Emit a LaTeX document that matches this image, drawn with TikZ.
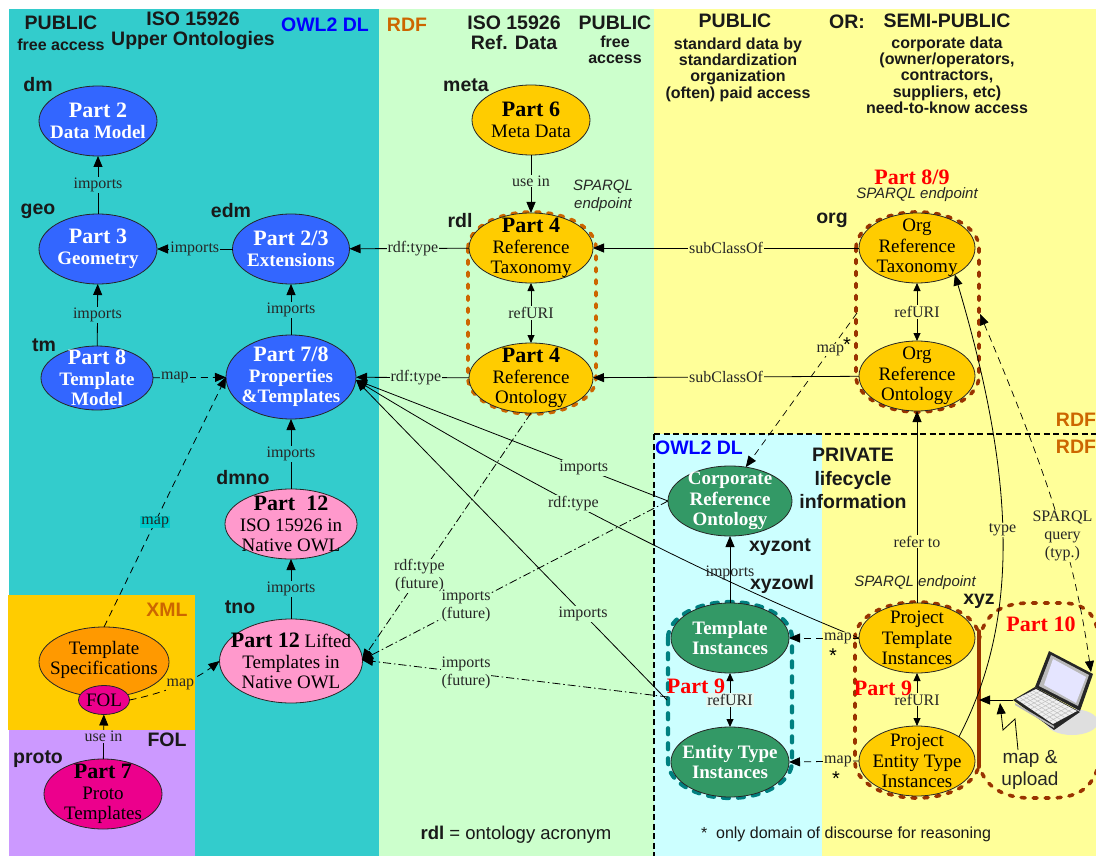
\documentclass[tikz,border=0pt]{standalone}
\usepackage{fontspec}
\setmainfont{Liberation Serif}
\setsansfont{Liberation Sans}
\usetikzlibrary{arrows.meta,calc,shapes.geometric}

\definecolor{bgteal}{HTML}{33CCCC}
\definecolor{bggreen}{HTML}{CCFFCC}
\definecolor{bgyellow}{HTML}{FFFF99}
\definecolor{bgcyan}{HTML}{CCFFFF}
\definecolor{bgxml}{HTML}{FFCC00}
\definecolor{bgfol}{HTML}{CC99FF}
\definecolor{mapchip}{HTML}{00CCCC}
\definecolor{refwash}{HTML}{E4F8F0}
\definecolor{ontoblue}{HTML}{3366FF}
\definecolor{ontogold}{HTML}{FFCC00}
\definecolor{ontogreen}{HTML}{339966}
\definecolor{ontopink}{HTML}{FF99CC}
\definecolor{ontospec}{HTML}{FF9900}
\definecolor{rdforange}{HTML}{CC6600}
\definecolor{grpbrown}{HTML}{993300}
\definecolor{grpteal}{HTML}{008080}

\newcommand{\parttitle}[1]{{\fontsize{22}{24}\selectfont\bfseries #1}}

\tikzset{
  onto/.style={ellipse, draw=black!85, line width=.8pt, inner sep=0pt, outer sep=0pt},
  ontotext/.style={font=\fontsize{19}{20.5}\selectfont, align=center, inner sep=0pt},
  whitetext/.style={ontotext, text=white, font=\fontsize{19}{20.5}\selectfont\bfseries},
  con/.style={-{Triangle[length=11pt,width=9pt]}, line width=.8pt},
  refcon/.style={{Triangle[length=8pt,width=7pt]}-{Triangle[length=8pt,width=7pt]}, line width=.8pt},
  mapcon/.style={con, dash pattern=on 7pt off 5pt},
  futcon/.style={con, dash pattern=on 8pt off 3pt on 1.5pt off 3pt},
  lbl/.style={font=\fontsize{16}{18}\selectfont, align=center, inner sep=1pt, text=black!85},
  grp/.style={line width=3.6pt, line cap=round, dash pattern=on 4pt off 8pt},
  head/.style={font=\fontsize{19.5}{20}\selectfont\sffamily\bfseries, align=center, inner sep=0pt, text=black!90},
  subhead/.style={font=\fontsize{16}{16.3}\selectfont\sffamily\bfseries, align=center, inner sep=0pt, text=black!90},
  tag/.style={font=\fontsize{19.5}{20}\selectfont\sffamily\bfseries, inner sep=0pt, text=black!90},
  lang/.style={font=\fontsize{19.5}{20}\selectfont\sffamily\bfseries, inner sep=0pt},
  partred/.style={font=\fontsize{22}{24}\selectfont\bfseries, text=red, inner sep=0pt},
  endpt/.style={font=\fontsize{15}{18}\selectfont\sffamily\itshape, align=center, inner sep=0pt, text=black!85},
}

\begin{document}
\begin{tikzpicture}[x=1pt,y=-1pt]
\useasboundingbox (0,0) rectangle (1096,856);

% Background regions
\fill[bgteal] (9,9) rectangle (379,856);
\fill[bggreen] (379,9) rectangle (654,856);
\fill[bgyellow] (654,9) rectangle (1096,856);
\fill[bgcyan] (654,434) rectangle (822,856);
\fill[bgxml] (8,595) rectangle (195,730);
\fill[bgfol] (9,730) rectangle (195,856);

% Dashed groups
\draw[grp, rdforange] (468,248) arc[start angle=180,end angle=0,x radius=64pt,y radius=36pt]
  -- (596,378) arc[start angle=0,end angle=-180,x radius=64pt,y radius=36pt] -- cycle;
\draw[grp, grpbrown] (856,248) arc[start angle=180,end angle=0,x radius=61.5pt,y radius=36pt]
  -- (979,376) arc[start angle=0,end angle=-180,x radius=61.5pt,y radius=36pt] -- cycle;
\draw[grp, grpteal, line width=4.2pt, dash pattern=on 6pt off 9pt] (668,638) arc[start angle=180,end angle=0,x radius=62pt,y radius=36pt]
  -- (792,762) arc[start angle=0,end angle=-180,x radius=62pt,y radius=36pt] -- cycle;
\draw[grp, grpbrown] (855,638) arc[start angle=180,end angle=0,x radius=62pt,y radius=36pt]
  -- (979,762) arc[start angle=0,end angle=-180,x radius=62pt,y radius=36pt] -- cycle;
\draw[grp, grpbrown] (979,640) .. controls (985,612) and (1003,603) .. (1030,603)
  -- (1062,603) .. controls (1085,603) and (1094,615) .. (1097,628);
\draw[grp, grpbrown] (1097,770) .. controls (1090,790) and (1075,798) .. (1050,798)
  -- (1030,798) .. controls (1005,798) and (985,788) .. (979,765);
\draw[grpbrown, line width=3.6pt, line cap=round] (979,631) -- (979,767);

% Upper ontologies
\node[onto, fill=ontoblue, minimum width=118, minimum height=70,
  label={[whitetext]center:{\parttitle{Part 2}\\Data Model}}] (dm) at (98,121) {};
\node[onto, fill=ontoblue, minimum width=118, minimum height=70,
  label={[whitetext]center:{\parttitle{Part 3}\\Geometry}}] (geo) at (98,249) {};
\node[onto, fill=ontoblue, minimum width=117, minimum height=70,
  label={[whitetext]center:{\parttitle{Part 2/3}\\Extensions}}] (edm) at (291,249) {};
\node[onto, fill=ontoblue, minimum width=112, minimum height=64,
  label={[whitetext]center:{\parttitle{Part 8}\\Template\\Model}}] (tm) at (97,378) {};
\node[onto, fill=ontoblue, minimum width=130, minimum height=84,
  label={[whitetext]center:{\parttitle{Part 7/8}\\Properties\\\&Templates}}] (prop) at (291,377) {};
\node[onto, fill=ontopink, minimum width=132, minimum height=70,
  label={[ontotext]center:{\parttitle{Part\ \ 12}\\ISO 15926 in\\Native OWL}}] (dmno) at (291,524) {};
\node[onto, fill=ontopink, minimum width=143, minimum height=84,
  label={[ontotext]center:{\parttitle{Part 12} Lifted\\Templates in\\Native OWL}}] (tno) at (291,661) {};
\node[onto, fill=ontospec, minimum width=130, minimum height=70,
  label={[ontotext, yshift=2pt]center:{Template\\Specifications}}] (spec) at (104,662) {};
\node[onto, fill=magenta, minimum width=51, minimum height=29,
  label={[ontotext]center:{FOL}}] (fol) at (104,700) {};
\node[onto, fill=magenta, minimum width=118, minimum height=70,
  label={[ontotext]center:{\parttitle{Part 7}\\Proto\\Templates}}] (proto) at (103,794) {};

% Reference data
\node[onto, fill=ontogold, minimum width=118, minimum height=70,
  label={[ontotext]center:{\parttitle{Part 6}\\Meta Data}}] (meta) at (531,120) {};
\node[onto, fill=ontogold, minimum width=124, minimum height=70,
  label={[ontotext]center:{\parttitle{Part 4}\\Reference\\Taxonomy}}] (ptax) at (531,248) {};
\node[onto, fill=ontogold, minimum width=124, minimum height=70,
  label={[ontotext]center:{\parttitle{Part 4}\\Reference\\Ontology}}] (pont) at (531,378) {};
\node[onto, fill=ontogold, minimum width=116, minimum height=70,
  label={[ontotext]center:{Org\\Reference\\Taxonomy}}] (otax) at (917,248) {};
\node[onto, fill=ontogold, minimum width=116, minimum height=70,
  label={[ontotext]center:{Org\\Reference\\Ontology}}] (oont) at (917,376) {};

% Private information
\node[onto, fill=ontogreen, minimum width=124, minimum height=70,
  label={[whitetext]center:{Corporate\\Reference\\Ontology}}] (corp) at (730,501) {};
\node[onto, fill=ontogreen, minimum width=118, minimum height=70,
  label={[whitetext]center:{Template\\Instances}}] (tinst) at (730,638) {};
\node[onto, fill=ontogreen, minimum width=118, minimum height=70,
  label={[whitetext]center:{Entity Type\\Instances}}] (einst) at (730,762) {};
\node[onto, fill=ontogold, minimum width=116, minimum height=70,
  label={[ontotext]center:{Project\\Template\\Instances}}] (ptinst) at (917,638) {};
\node[onto, fill=ontogold, minimum width=116, minimum height=70,
  label={[ontotext]center:{Project\\Entity Type\\Instances}}] (peinst) at (917,761) {};

% Free ends of connectors
\coordinate (orggrpw) at (857,313);
\coordinate (orggrpe) at (980,314);
\coordinate (tealw) at (667,700);
\coordinate (tealw2) at (668,697);
\coordinate (prope) at (356,380);
\coordinate (tnoe) at (362,660);
\coordinate (laptop) at (1013,700);
\coordinate (laptopup) at (1091,672);
\coordinate (grpline) at (979,700);
\coordinate (zigtip) at (1000,703);
\coordinate (zigone) at (1003,730);
\coordinate (zigtwo) at (1015,719);
\coordinate (zigend) at (1018,750);

% Laptop
\fill[gray!25] (1072,722) ellipse [x radius=26pt, y radius=13pt];
\fill[black!85] (1013,700) -- (1035,687) -- (1080,712) -- (1054,730) -- cycle;
\fill[gray!55] (1015,703) -- (1054,726) -- (1054,728) -- (1015,705) -- cycle;
\coordinate (keya) at (1016,699);
\coordinate (keyb) at (1036,689);
\coordinate (keyc) at (1077,711);
\coordinate (keyd) at (1053,724);
\fill[gray!12] (keya) -- (keyb) -- (keyc) -- (keyd) -- cycle;
\foreach \t in {.17,.33,.5,.67,.83}
  \draw[gray!50, line width=.5pt] ($(keya)!\t!(keyb)$) -- ($(keyd)!\t!(keyc)$);
\foreach \t in {.1,.2,.3,.4,.5,.6,.7,.8,.9}
  \draw[gray!50, line width=.5pt] ($(keya)!\t!(keyd)$) -- ($(keyb)!\t!(keyc)$);
\fill[black!85] (1035,687) -- (1049,651) -- (1093,674) -- (1080,711) -- cycle;
\fill[gray!55] (1039,686) -- (1051,655) -- (1089,675) -- (1078,706) -- cycle;
\fill[blue!10] (1044,685) -- (1053,659) -- (1086,677) -- (1076,703) -- cycle;

% Connectors, upper ontologies
\draw[con] (geo) -- node[lbl, fill=bgteal] (lgeo) {imports} (dm);
\draw[con] (edm) -- node[lbl, fill=bgteal, pos=.5] (ledm) {imports} (geo);
\draw[con] (tm) -- node[lbl, fill=bgteal] (ltm) {imports} (geo);
\draw[con] (prop) -- node[lbl, fill=bgteal] (lprop) {imports} (edm);
\draw[mapcon] (tm) -- node[lbl, fill=bgteal, pos=.3] (ltmmap) {map} (prop);
\draw[con] (dmno) -- node[lbl, fill=bgteal] (ldmno) {imports} (prop);
\draw[con] (tno) -- node[lbl, fill=bgteal] (ltno) {imports} (dmno);
\draw[mapcon] (spec.north) -- node[lbl, fill=mapchip, pos=.42] (lspec) {map} (prop.west);
\draw[mapcon] (fol.east) .. controls (165,693) and (195,680) .. node[lbl, fill=bgxml, pos=.52] (lfol) {map} (tno.west);
\draw[con] (proto) -- node[lbl, fill=bgfol, pos=.5] (lproto) {use in} (fol);

% Connectors, reference data
\draw[con] (ptax) -- node[lbl, fill=bggreen, pos=.47] (lptax) {rdf:type} (edm);
\draw[con] (pont) -- node[lbl, fill=bggreen, pos=.47] (lpont) {rdf:type} (prop);
\draw[con] (meta) -- node[lbl, fill=bggreen, pos=.45] (lmeta) {use in} (ptax);
\draw[refcon] (ptax) -- node[lbl, fill=bggreen] (lref) {refURI} (pont);
\draw[con] (otax) -- node[lbl, fill=bgyellow, pos=.5] (lotax) {subClassOf} (ptax);
\draw[con] (oont) -- node[lbl, fill=bgyellow, pos=.5] (loont) {subClassOf} (pont);
\draw[refcon] (otax) -- node[lbl, fill=bgyellow] (lorg) {refURI} (oont);
\draw[mapcon, line width=.7pt] (orggrpw) -- node[lbl, fill=bgyellow, pos=.24] (lcorpmap) {map} (corp.65);

% Connectors, private data
\draw[con] (corp.west) -- node[lbl, fill=bggreen, pos=.27] (lcorp) {imports} (prope);
\draw[con] (ptinst.west) .. controls (700,574) and (520,480) .. node[lbl, fill=bggreen, pos=.57] (lpt) {rdf:type} (prope);
\draw[con] (tealw) -- node[lbl, fill=bggreen, pos=.27] (lteal) {imports} (prope);
\draw[futcon] (pont.south) -- node[lbl, fill=bggreen, pos=.66] (lfut) {rdf:type\\(future)} (tnoe);
\draw[futcon] (corp.west) -- node[lbl, fill=bggreen, pos=.66] (lfuttwo) {imports\\(future)} (tnoe);
\draw[futcon] (tealw2) -- node[lbl, fill=bggreen, pos=.66] (lfutthree) {imports\\(future)} (tnoe);
\draw[con] (tinst) -- node[lbl, fill=none, pos=.45] (ltinst) {imports} (corp);
\draw[refcon] (tinst) -- node[lbl, fill=refwash] (ltref) {refURI} (einst);
\draw[mapcon] (ptinst.west) -- node[lbl, fill=bgyellow, pos=.3] (lptmap) {map} (tinst.east);
\draw[mapcon] (peinst.west) -- node[lbl, fill=bgyellow, pos=.3] (lpemap) {map} (einst.east);
\draw[refcon] (ptinst) -- node[lbl, fill=bgyellow] (lpref) {refURI} (peinst);
\draw[con] (ptinst) -- node[lbl, fill=bgyellow, pos=.32] (lrefer) {refer to} (oont);
\draw[con] (peinst.30) .. controls (1020,620) and (1016,480) .. node[lbl, fill=bgyellow, pos=.52] (ltype) {type} (otax.-35);
\draw[mapcon, line width=.7pt, {Triangle[length=11pt,width=9pt]}-{Triangle[length=11pt,width=9pt]}] (orggrpe) .. controls (1050,480) and (1075,560) .. node[lbl, fill=bgyellow, pos=.57] (lsparql) {SPARQL\\query\\(typ.)} (laptopup);
\draw[con] (laptop) -- (grpline);
\draw[con] (zigend) -- (zigtwo) -- (zigone) -- (zigtip);

% Boundary of the private area
\draw[line width=2.6pt, dash pattern=on 6pt off 3.5pt] (654,434) -- (1096,434);
\draw[line width=2.6pt, dash pattern=on 6pt off 3.5pt] (654,434) -- (654,856);

% Headings, left
\node[head] (hpub) at (61,23) {PUBLIC};
\node[subhead] (hfree) at (61,45) {free access};
\node[head] (hiso) at (193,31) {ISO 15926\\Upper Ontologies};
\node[lang, text=blue] (howl) at (325,25) {OWL2 DL};
\node[lang, text=rdforange] (hrdf) at (407,25) {RDF};
\node[head] (hisotwo) at (514,33) {ISO 15926\\Ref. Data};
\node[head] (hpubtwo) at (615,23) {PUBLIC};
\node[subhead] (hfreetwo) at (615,50) {free\\access};

% Headings, right
\node[head] (hpubthree) at (735,21) {PUBLIC};
\node[subhead] (hstd) at (738,69.5) {standard data by\\standardization\\organization\\(often) paid access};
\node[head] (hor) at (847,22) {OR:};
\node[head] (hsemi) at (947,21) {SEMI-PUBLIC};
\node[subhead] (hcorp) at (947,75) {corporate data\\(owner/operators,\\contractors,\\suppliers, etc)\\need-to-know access};
\node[partred] (p89) at (912,177) {Part 8/9};
\node[endpt] (endorg) at (917,195) {SPARQL endpoint};
\node[endpt] (endrdl) at (603,196) {SPARQL\\endpoint};
\node[endpt] (endxyz) at (915,583) {SPARQL endpoint};

% Acronyms
\node[tag] (tdm) at (38,85) {dm};
\node[tag] (tgeo) at (38,211) {geo};
\node[tag] (tedm) at (231,211) {edm};
\node[tag] (ttm) at (44,345) {tm};
\node[tag] (tdmno) at (243,478) {dmno};
\node[tag] (ttno) at (240,607) {tno};
\node[tag] (tproto) at (38,759) {proto};
\node[tag] (tmeta) at (466,85) {meta};
\node[tag] (trdl) at (460,221) {rdl};
\node[tag] (torg) at (832,220) {org};
\node[tag] (txyzont) at (780,547) {xyzont};
\node[tag] (txyzowl) at (782,584) {xyzowl};
\node[tag] (txyz) at (979,601) {xyz};

% Languages
\node[lang, text=rdforange] (lxml) at (167,610) {XML};
\node[lang, text=black!90] (lfollang) at (167,740) {FOL};
\node[lang, text=rdforange] (lrdfa) at (1076,420) {RDF};
\node[lang, text=rdforange] (lrdfb) at (1076,447) {RDF};
\node[lang, text=blue] (lowl) at (699,448) {OWL2 DL};

% Private heading and part marks
\node[head, font=\fontsize{19.5}{23.5}\selectfont\sffamily\bfseries] (hpriv) at (853,478.5) {PRIVATE\\lifecycle\\information};
\node[partred] (pten) at (1041,624) {Part 10};
\node[partred] (pnine) at (696,686) {Part 9};
\node[partred] (pninetwo) at (883,688) {Part 9};

% Stars and notes
\node[font=\fontsize{20}{20}\selectfont\sffamily, inner sep=0pt] (stara) at (847,345) {*};
\node[font=\fontsize{20}{20}\selectfont\sffamily, inner sep=0pt] (starb) at (833,656) {*};
\node[font=\fontsize{20}{20}\selectfont\sffamily, inner sep=0pt] (starc) at (836,779) {*};
\node[font=\fontsize{19}{22}\selectfont\sffamily, align=center, inner sep=0pt, text=black!85] (mapup) at (1030,770) {map \&\\upload};
\node[font=\fontsize{18.5}{20}\selectfont\sffamily, inner sep=0pt, text=black!90] (nrdl) at (516,835) {\textbf{rdl} = ontology acronym};
\node[font=\fontsize{16}{20}\selectfont\sffamily, inner sep=0pt, text=black!90] (nonly) at (846,834) {*\ \ only domain of discourse for reasoning};
\end{tikzpicture}
\end{document}
